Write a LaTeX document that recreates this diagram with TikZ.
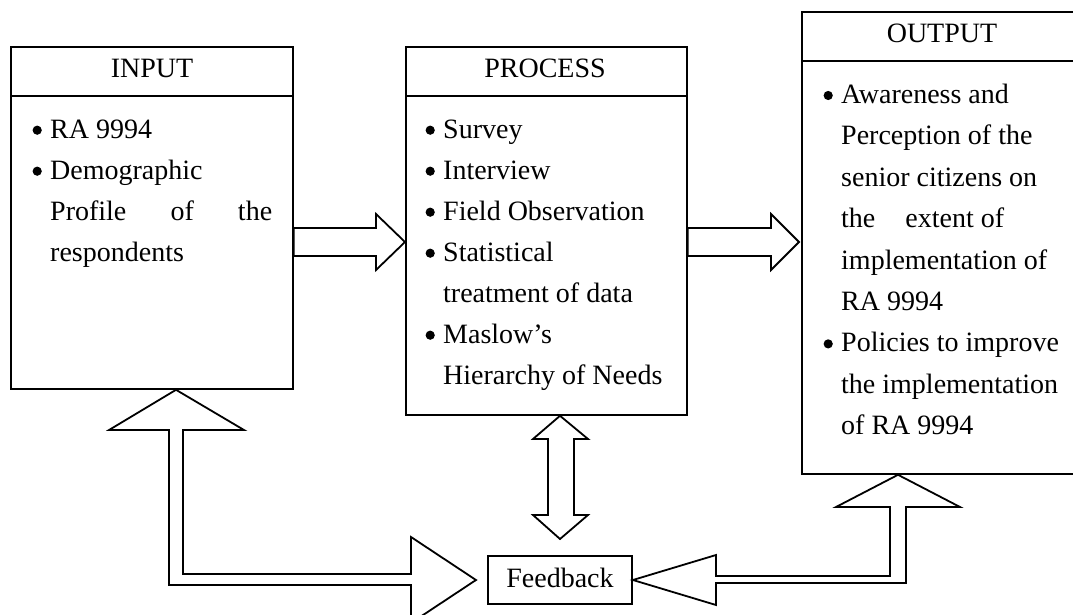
\documentclass[tikz,border=0pt]{standalone}
\usepackage{fontspec}
\setmainfont{Liberation Serif}
\newcommand\bul{\llap{\tikz[baseline=0pt]\fill (0pt,8pt) circle (4.6pt);\hspace{8.4pt}}}
\begin{document}
\begin{tikzpicture}[x=1pt,y=-1pt,font=\fontsize{28}{41}\selectfont,
  box/.style={draw, line width=1.8pt, inner sep=0pt, anchor=north west},
  blk/.style={draw, line width=1.8pt, line join=miter},
  divider/.style={draw, line width=1.8pt},
  head/.style={anchor=base, inner sep=0pt},
  list/.style={anchor=north west, align=left, inner sep=0pt}]
\useasboundingbox (0,0) rectangle (1073,615);
\clip (0,0) rectangle (1073,615);
% boxes
\node[box, minimum width=282pt, minimum height=342pt] (inbox) at (10,46) {};
\node[box, minimum width=281pt, minimum height=368pt] (procbox) at (405,46) {};
\node[box, minimum width=282pt, minimum height=462pt] (outbox) at (801,11) {};
\node[draw, line width=1.8pt, inner sep=0pt, minimum width=144pt, minimum height=48pt,
  text height=19pt, text depth=5pt] (fb) at (560,580) {Feedback};
% header dividers
\draw[divider] ([yshift=-50pt]inbox.north west) -- ([yshift=-50pt]inbox.north east);
\draw[divider] ([yshift=-50pt]procbox.north west) -- ([yshift=-50pt]procbox.north east);
\draw[divider] ([yshift=-50pt]outbox.north west) -- ([yshift=-50pt]outbox.north east);
% headers
\node[head] (inhead) at (152,78) {INPUT};
\node[head] (prochead) at (545,78) {PROCESS};
\node[head] (outhead) at (942,43) {OUTPUT};
% lists
\node[list] (inlist) at (50,109.3) {\strut\bul RA 9994\\
\bul Demographic\\
\makebox[222pt][s]{Profile\hfill of\hfill the}\\
respondents};
\node[list] (proclist) at (443,109.3) {\strut\bul Survey\\
\bul Interview\\
\bul Field Observation\\
\bul Statistical\\
treatment of data\\
\bul Maslow’s\\
Hierarchy of Needs};
\node[list, font=\fontsize{28}{41.4}\selectfont] (outlist) at (841,74.3) {\strut\bul Awareness and\\
Perception of the\\
senior citizens on\\
the\hspace{30pt}extent of\\
implementation of\\
RA 9994\\
\bul Policies to improve\\
the implementation\\
of RA 9994};
% block arrows
\draw[blk] (inbox.east |- 0,228) -- (376,228) -- (376,214) -- (procbox.west |- 0,242)
  -- (376,270) -- (376,256) -- (inbox.east |- 0,256) -- cycle;
\draw[blk] (procbox.east |- 0,228) -- (771,228) -- (771,214) -- (799,242)
  -- (771,270) -- (771,256) -- (procbox.east |- 0,256) -- cycle;
\draw[blk] (fb.north |- procbox.south) -- (588,439) -- (574,439) -- (574,515) -- (588,515)
  -- (560,539) -- (533,515) -- (548,515) -- (548,439) -- (533,439) -- cycle;
\draw[blk] (176,0 |- inbox.south) -- (244,430) -- (183,430) -- (183,574) -- (411,574)
  -- (411,537) -- (476,580) -- (411,623) -- (411,585) -- (169,585) -- (169,430) -- (109,430) -- cycle;
\draw[blk] (898,0 |- outbox.south) -- (960,507) -- (906,507) -- (906,583) -- (716,583)
  -- (716,605) -- (fb.east) -- (716,555) -- (716,576) -- (890,576) -- (890,507) -- (836,507) -- cycle;
\end{tikzpicture}
\end{document}
